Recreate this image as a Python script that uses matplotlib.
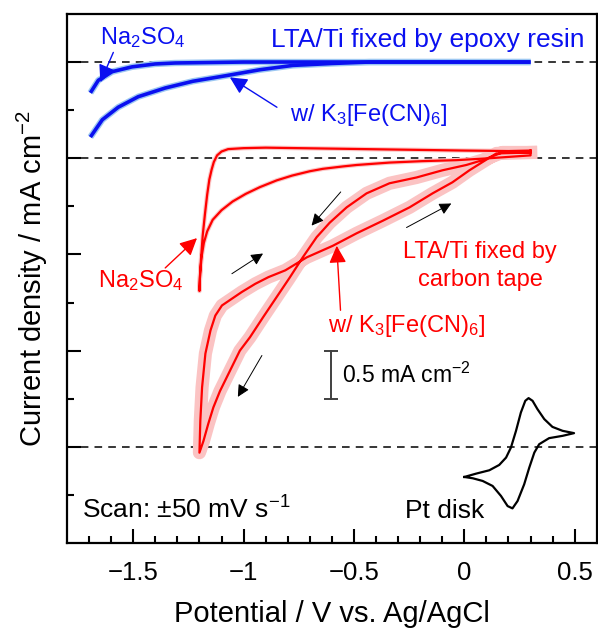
import matplotlib
matplotlib.use('Agg')
import matplotlib.pyplot as plt

plt.rcParams['font.family'] = ['Liberation Sans', 'DejaVu Sans']
plt.rcParams['mathtext.fontset'] = 'custom'
plt.rcParams['mathtext.rm'] = 'Liberation Sans'
plt.rcParams['mathtext.it'] = 'Liberation Sans:italic'
plt.rcParams['mathtext.default'] = 'regular'

# ---- data (potential in V vs Ag/AgCl, current density in mA cm-2 with offsets) ----
# epoxy resin (blue), baseline 4.0
blue_na_x = [0.30, -0.40, -1.00, -1.310, -1.401, -1.505, -1.595, -1.658, -1.694]
blue_na_y = [4.00, 4.00, 4.00, 3.99, 3.98, 3.95, 3.90, 3.81, 3.68]
blue_k3_x = [0.30, -0.43, -0.60, -0.777, -0.926, -1.075, -1.23, -1.355, -1.477, -1.568, -1.640, -1.694]
blue_k3_y = [4.00, 4.00, 3.985, 3.965, 3.92, 3.86, 3.80, 3.73, 3.64, 3.53, 3.40, 3.22]

# carbon tape (red), baseline 3.0
red_na_x = [0.30, 0.20, 0.00, -0.30, -0.60, -0.90, -1.00, -1.07, -1.10, -1.12, -1.135, -1.145,
            -1.155, -1.165, -1.175, -1.185, -1.193, -1.198, -1.20,
            -1.197, -1.19, -1.18, -1.165, -1.14, -1.10, -1.05, -0.99, -0.926, -0.85, -0.78,
            -0.70, -0.641, -0.55, -0.488, -0.339, -0.190, -0.036, 0.113, 0.30, 0.30]
red_na_y = [3.08, 3.075, 3.08, 3.09, 3.10, 3.11, 3.105, 3.095, 3.07, 3.03, 2.96, 2.88,
            2.78, 2.62, 2.42, 2.20, 1.95, 1.75, 1.62,
            1.80, 1.98, 2.12, 2.24, 2.36, 2.46, 2.55, 2.63, 2.70, 2.77, 2.82,
            2.865, 2.89, 2.915, 2.93, 2.955, 2.97, 2.98, 3.00, 3.03, 3.08]

red_k3_x = [0.30, 0.172, 0.082, 0.009, -0.099, -0.217, -0.339, -0.443, -0.533, -0.610, -0.669,
            -0.732, -0.791, -0.851, -0.911, -0.971, -1.017, -1.062, -1.107, -1.137, -1.160,
            -1.182, -1.20,
            -1.196, -1.188, -1.173, -1.150, -1.128, -1.098, -1.053, -1.008, -0.947, -0.887,
            -0.811, -0.714, -0.596, -0.488, -0.370, -0.248, -0.144, -0.054, 0.023, 0.082,
            0.145, 0.30]
red_k3_y = [3.06, 3.06, 2.98, 2.93, 2.875, 2.80, 2.74, 2.635, 2.49, 2.33, 2.18,
            1.97, 1.76, 1.555, 1.35, 1.14, 1.00, 0.79, 0.58, 0.41, 0.24,
            0.06, -0.06,
            0.27, 0.62, 0.97, 1.21, 1.365, 1.47, 1.54, 1.61, 1.695, 1.765,
            1.835, 1.97, 2.09, 2.22, 2.35, 2.49, 2.635, 2.75, 2.875, 2.96,
            3.05, 3.06]

# Pt disk reference CV (black), baseline 0
pt_x = [0.000, 0.053, 0.113, 0.158, 0.189, 0.211, 0.234, 0.256, 0.276, 0.291, 0.309, 0.331,
        0.362, 0.399, 0.445, 0.497, 0.445, 0.384, 0.339, 0.317, 0.294, 0.271, 0.241, 0.218,
        0.196, 0.166, 0.128, 0.083, 0.038, 0.000]
pt_y = [-0.3125, -0.278, -0.243, -0.1875, -0.111, -0.007, 0.167, 0.357, 0.479, 0.507, 0.479,
        0.393, 0.289, 0.208, 0.167, 0.143, 0.115, 0.091, 0.028, -0.059, -0.216, -0.389,
        -0.5625, -0.639, -0.615, -0.510, -0.406, -0.354, -0.326, -0.3125]

baselines = [0.0, 3.0, 4.0]
scalebar_x = -0.605
scalebar_y = [0.5, 1.0]
xticks_major = [-1.5, -1.0, -0.5, 0.0, 0.5]
xticklabels = ['\u22121.5', '\u22121', '\u22120.5', '0', '0.5']

BLUE = '#0a10f0'
RED = '#ff0000'

fig = plt.figure(figsize=(5.98, 6.33), dpi=100)
ax = fig.add_axes([0.112, 0.142, 0.886, 0.836])

for b in baselines:
    ax.axhline(b, color='black', lw=1.1, ls=(0, (5, 4)), zorder=1)

# blue (epoxy)
for xs, ys in [(blue_na_x, blue_na_y), (blue_k3_x, blue_k3_y)]:
    ax.plot(xs, ys, color='#9cc7f2', lw=4.6, solid_capstyle='butt', zorder=2)
    ax.plot(xs, ys, color=BLUE, lw=2.6, solid_capstyle='butt', zorder=3)

# red (carbon tape) with shaded spread
ax.plot(red_na_x, red_na_y, color='#fbc8c8', lw=3.2, zorder=2)
ax.plot(red_k3_x, red_k3_y, color='#fbc3c3', lw=9.5, zorder=2)
ax.plot(red_na_x, red_na_y, color=RED, lw=1.6, zorder=3)
ax.plot(red_k3_x, red_k3_y, color=RED, lw=1.6, zorder=3)

# Pt disk
ax.plot(pt_x, pt_y, color='black', lw=1.6, zorder=3)

# scale bar
ax.plot([scalebar_x, scalebar_x], scalebar_y, color='#404040', lw=1.4)
ax.plot([scalebar_x] * 2, scalebar_y, ls='none', marker='_', ms=10, mew=1.4, color='#404040')
ax.text(-0.553, 0.74, '0.5 mA cm$^{-2}$', fontsize=16.5, va='center', ha='left')

# labels
ax.text(-1.649, 4.25, 'Na$_2$SO$_4$', color=BLUE, fontsize=17, va='center', ha='left')
ax.text(0.545, 4.23, 'LTA/Ti fixed by epoxy resin', color=BLUE, fontsize=19, va='center', ha='right')
ax.text(-0.79, 3.45, 'w/ K$_3$[Fe(CN)$_6$]', color=BLUE, fontsize=17, va='center', ha='left')

ax.text(-1.658, 1.73, 'Na$_2$SO$_4$', color=RED, fontsize=17, va='center', ha='left')
ax.text(0.072, 1.88, 'LTA/Ti fixed by\ncarbon tape', color=RED, fontsize=17, va='center',
        ha='center', linespacing=1.4)
ax.text(-0.619, 1.26, 'w/ K$_3$[Fe(CN)$_6$]', color=RED, fontsize=17, va='center', ha='left')

ax.text(-1.73, -0.66, 'Scan: \u00b150 mV s$^{-1}$', fontsize=19, va='center', ha='left')
ax.text(-0.271, -0.667, 'Pt disk', fontsize=19, va='center', ha='left')

# annotation arrows
def arrow(tail, tip, color, lw, scale):
    ax.annotate('', xy=tip, xytext=tail,
                arrowprops=dict(arrowstyle='-|>', color=color, lw=lw,
                                mutation_scale=scale, shrinkA=0, shrinkB=0))

arrow((-1.590, 4.10), (-1.649, 3.79), BLUE, 1.0, 26)
arrow((-0.849, 3.53), (-1.062, 3.84), BLUE, 1.0, 26)
arrow((-1.355, 1.86), (-1.211, 2.17), RED, 1.0, 26)
arrow((-0.561, 1.42), (-0.578, 2.09), RED, 1.0, 26)

arrow((-0.560, 2.65), (-0.692, 2.30), 'black', 0.7, 18)
arrow((-0.262, 2.28), (-0.059, 2.53), 'black', 0.7, 18)
arrow((-1.053, 1.80), (-0.912, 2.01), 'black', 0.7, 18)
arrow((-0.917, 0.95), (-1.026, 0.52), 'black', 0.7, 18)

ax.set_xlim(-1.8, 0.6)
ax.set_ylim(-1.0, 4.5)
ax.set_xticks(xticks_major)
ax.set_xticklabels(xticklabels)
ax.set_xticks([x / 10 for x in range(-17, 6)], minor=True)
ax.set_yticks([0, 1, 2, 3, 4])
ax.set_yticks([-0.5, 0.5, 1.5, 2.5, 3.5], minor=True)
ax.set_yticklabels([])
ax.tick_params(which='both', direction='in', width=1.5, labelsize=18.5)
ax.tick_params(which='major', length=10, pad=13)
ax.tick_params(which='minor', length=5)
ax.tick_params(axis='y', which='both', left=True, right=False)
ax.tick_params(axis='x', which='both', bottom=True, top=False)
for s in ax.spines.values():
    s.set_linewidth(1.6)

ax.set_xlabel('Potential / V vs. Ag/AgCl', fontsize=21, labelpad=11)
ax.set_ylabel('Current density / mA cm$^{-2}$', fontsize=21)
ax.yaxis.set_label_coords(-0.032, 0.5)

fig.savefig('out.png', dpi=100)
